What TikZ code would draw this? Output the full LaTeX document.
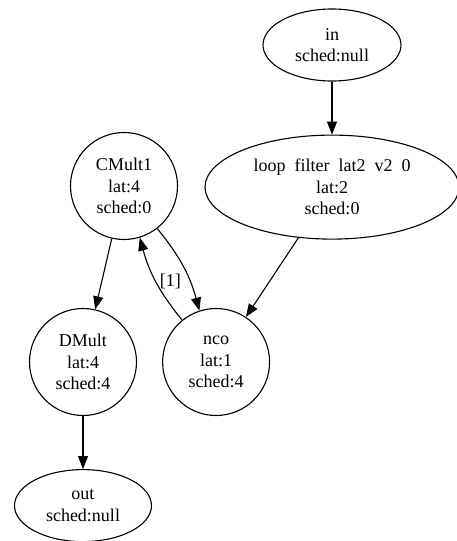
\documentclass[tikz,border=0pt]{standalone}
\usepackage{fontspec}
\setmainfont{Liberation Serif}
\usepackage{tikz}
\usetikzlibrary{shapes.geometric}
\usetikzlibrary{positioning}
\usetikzlibrary{arrows.meta}
\begin{document}
\begin{tikzpicture}
			[
				x = 1pt, y = 1pt,
				mycircle/.style = {draw, circle, line width = 1.1pt, minimum size = 107pt, inner sep = 0pt, align = center, font = \fontsize{18}{21.5}\selectfont},
				myellipse/.style = {draw, ellipse, line width = 1.1pt, inner sep = 0pt, align = center, font = \fontsize{18}{21.5}\selectfont},
				myarrow/.style = {line width = 1.1pt, -{Triangle[length = 13pt, width = 10pt]}}
			]
			\useasboundingbox (0,0) rectangle (457,-541);
			%
			\node (in) [myellipse, minimum width = 138pt, minimum height = 72pt] at (332,-45) {in\\sched:null};
			%
			\node (loopfilter) [myellipse, minimum width = 254pt, minimum height = 104pt, below = 53pt of in] {loop\hspace{0.5em}filter\hspace{0.5em}lat2\hspace{0.5em}v2\hspace{0.5em}0\\lat:2\\sched:0};
			\draw [myarrow] (in) -- (loopfilter);
			%
			\node (cmult) [mycircle] at (124,-186) {CMult1\\lat:4\\sched:0};
			%
			\node (dmult) [mycircle] at (83,-362) {DMult\\lat:4\\sched:4};
			\draw [myarrow] (cmult) -- (dmult);
			%
			\node (nco) [mycircle, right = 25pt of dmult] {nco\\lat:1\\sched:4};
			\draw [myarrow] (loopfilter) -- (nco);
			\draw [myarrow] (cmult.-52) to [bend left = 12] (nco.108);
			\draw [myarrow] (nco.129) to [bend left = 12] node (loopdelay) [pos = 0.5, right = 0pt, font = \fontsize{18}{20}\selectfont] {[1]} (cmult.-73);
			%
			\node (out) [myellipse, minimum width = 137pt, minimum height = 72pt, below = 53pt of dmult] {out\\sched:null};
			\draw [myarrow] (dmult) -- (out);
			%
		\end{tikzpicture}
\end{document}
